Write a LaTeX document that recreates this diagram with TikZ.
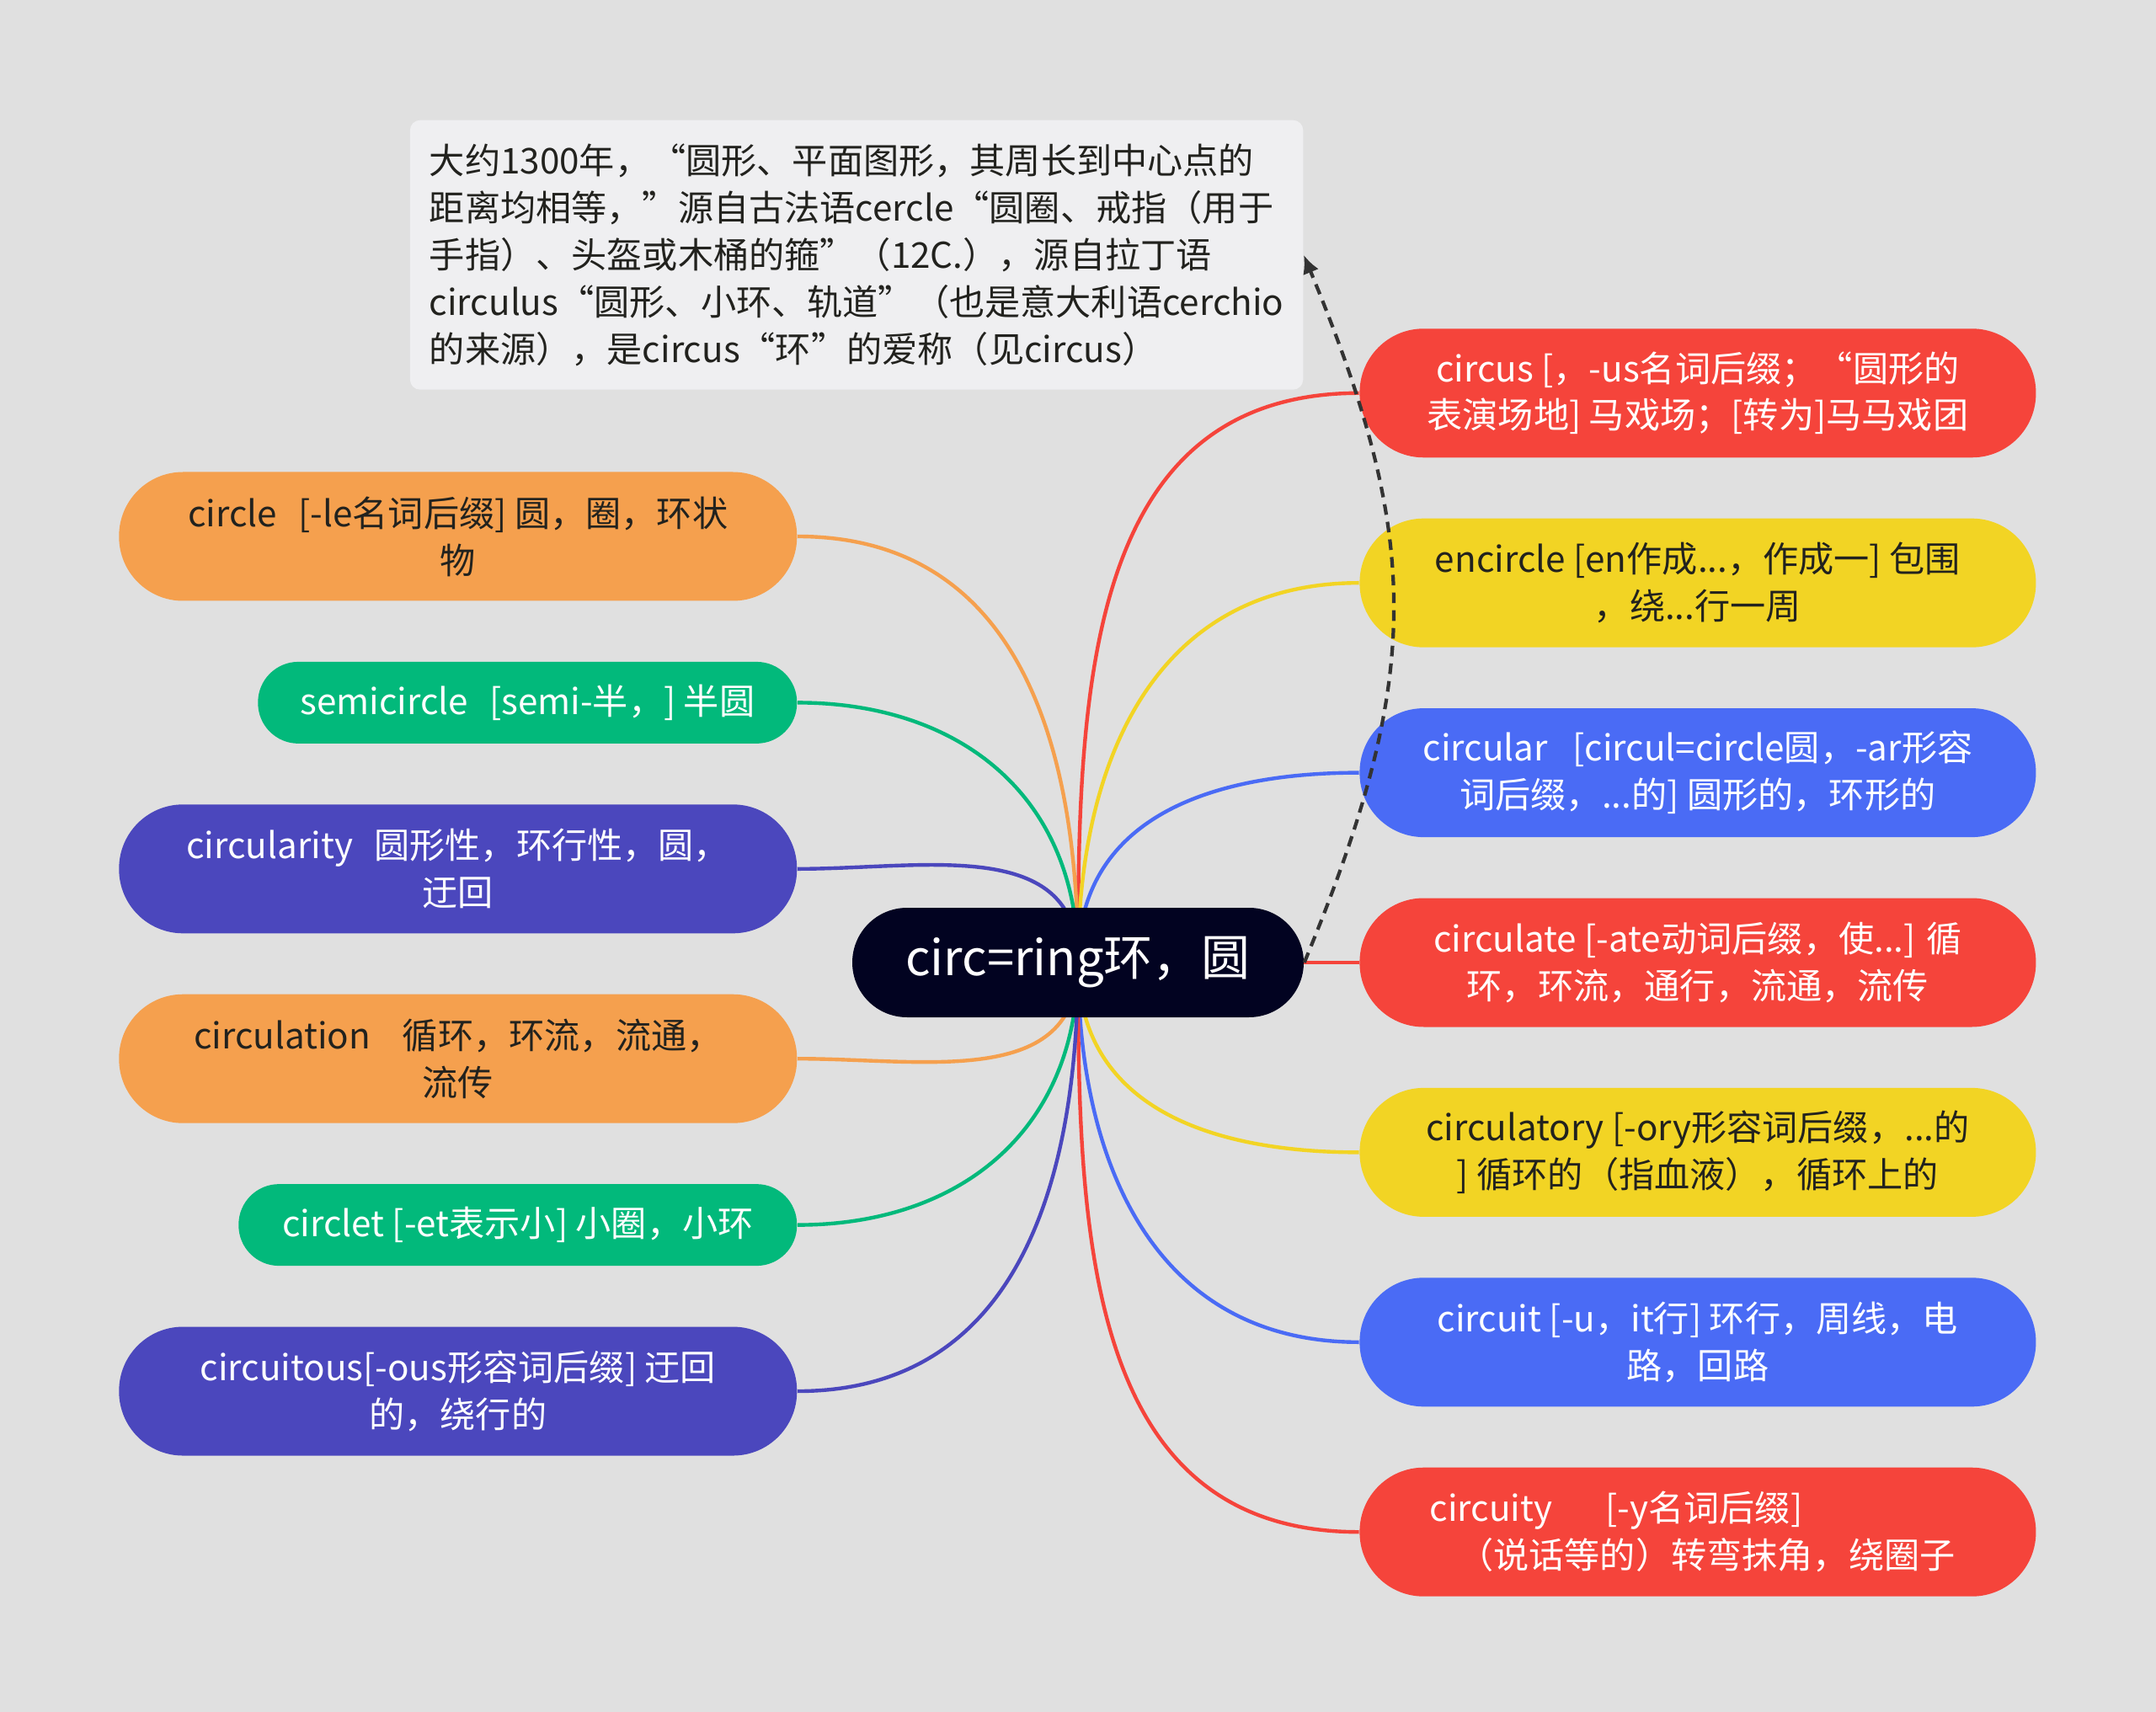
\documentclass[tikz,border=0pt]{standalone}
\usepackage{fontspec}
\setmainfont{Noto Sans CJK SC}
\usepackage{tikz}
\usetikzlibrary{arrows.meta,positioning,backgrounds}
\definecolor{bggray}{RGB}{224,224,224}
\definecolor{notegray}{RGB}{239,239,241}
\definecolor{hubnavy}{RGB}{2,3,33}
\definecolor{mmred}{RGB}{245,68,59}
\definecolor{mmyellow}{RGB}{242,212,36}
\definecolor{mmblue}{RGB}{74,107,245}
\definecolor{mmpurple}{RGB}{75,71,189}
\definecolor{mmgreen}{RGB}{2,185,123}
\definecolor{mmorange}{RGB}{245,160,78}
\definecolor{darktext}{RGB}{34,34,30}
\newcommand\qopen{{\addfontfeature{RawFeature=+fwid}“}}
\newcommand\qclose{{\addfontfeature{RawFeature=+fwid}”}}

\begin{document}
\begin{tikzpicture}[
  node distance=7.1mm and 6.5mm,
  font=\fontsize{12pt}{15.9pt}\selectfont,
  big/.style={rounded corners=7.6mm, align=center, minimum height=15.3mm, minimum width=80.3mm, inner sep=0pt},
  slim/.style={rounded corners=4.8mm, align=center, minimum height=9.7mm, inner sep=0pt},
  hubnode/.style={fill=hubnavy, text=white, rounded corners=6.5mm, minimum height=13mm, minimum width=53.6mm, font=\fontsize{16.5pt}{19pt}\selectfont},
  note/.style={fill=notegray, rounded corners=1.2mm, align=left, inner xsep=2.3mm, minimum width=105.8mm, minimum height=32mm, text=darktext},
  link/.style={line width=1.25pt},
  back/.style={-{Latex[length=2.2mm,width=2mm]}, line width=1.2pt, draw=black!80, dash pattern=on 3.6pt off 2.4pt}
]
\useasboundingbox (0,0) rectangle (25.6,-20.33);

\node[hubnode] (hub) at (12.80,-11.43) {circ=ring环，圆};

% right column
\node[big, fill=mmred, text=white, right=of hub] (circulate) {circulate [-ate动词后缀，使...] 循\\环，环流，通行，流通，流传};
\node[big, fill=mmblue, text=white, above=of circulate] (circular) {circular\hspace{0.7em}[circul=circle圆，-ar形容\\词后缀，...的] 圆形的，环形的};
\node[big, fill=mmyellow, text=darktext, above=of circular] (encircle) {encircle [en作成...，作成一] 包围\\，绕...行一周};
\node[big, fill=mmred, text=white, above=of encircle] (circus) {circus [，-us名词后缀；\qopen 圆形的\\表演场地] 马戏场；[转为]马马戏团};
\node[big, fill=mmyellow, text=darktext, below=of circulate] (circulatory) {circulatory [-ory形容词后缀，...的\\] 循环的（指血液），循环上的};
\node[big, fill=mmblue, text=white, below=of circulatory] (circuit) {circuit [-u，it行] 环行，周线，电\\路，回路};
\node[big, fill=mmred, text=white, below=of circuit] (circuity) {circuity\hspace{1.5em}[-y名词后缀]\mbox{\hspace{4.6em}}\\\mbox{\hspace{0.5em}}（说话等的）转弯抹角，绕圈子};

% left column
\node[big, minimum width=80.5mm, fill=mmorange, text=darktext, anchor=east] (circle) at (9.47,-6.37) {circle\hspace{0.6em}[-le名词后缀] 圆，圈，环状\\物};
\node[slim, minimum width=64mm, fill=mmgreen, text=white, below=of circle.south east, anchor=north east] (semicircle) {semicircle\hspace{0.6em}[semi-半，] 半圆};
\node[big, minimum width=80.5mm, fill=mmpurple, text=white, below=of semicircle.south east, anchor=north east] (circularity) {circularity\hspace{0.6em}圆形性，环行性，圆，\\迂回};
\node[big, minimum width=80.5mm, fill=mmorange, text=darktext, below=of circularity.south east, anchor=north east] (circulation) {circulation\hspace{0.9em}循环，环流，流通，\\流传};
\node[slim, minimum width=66.3mm, fill=mmgreen, text=white, below=of circulation.south east, anchor=north east] (circlet) {circlet [-et表示小] 小圈，小环};
\node[big, minimum width=80.5mm, fill=mmpurple, text=white, below=of circlet.south east, anchor=north east] (circuitous) {circuitous[-ous形容词后缀] 迂回\\的，绕行的};

\node[note, anchor=north east] (origin) at (15.48,-1.42) {大约1300年，\qopen 圆形、平面图形，其周长到中心点的\\
距离均相等，\qclose 源自古法语cercle\qopen 圆圈、戒指（用于\\
手指）、头盔或木桶的箍\qclose（12C.），源自拉丁语\\
circulus\qopen 圆形、小环、轨道\qclose（也是意大利语cerchio\\
的来源），是circus\qopen 环\qclose 的爱称（见circus）};

\begin{pgfonlayer}{background}
\fill[bggray] (0,0) rectangle (25.6,-20.33);
\draw[link, mmred] (hub.center) to[out=90, in=180, looseness=1.1] (circus.west);
\draw[link, mmyellow] (hub.center) to[out=90, in=180, looseness=1.1] (encircle.west);
\draw[link, mmblue] (hub.center) to[out=90, in=180, looseness=1.1] (circular.west);
\draw[link, mmred] (hub.center) -- (circulate.west);
\draw[link, mmyellow] (hub.center) to[out=-90, in=180, looseness=1.1] (circulatory.west);
\draw[link, mmblue] (hub.center) to[out=-90, in=180, looseness=1.1] (circuit.west);
\draw[link, mmred] (hub.center) to[out=-90, in=180, looseness=1.1] (circuity.west);
\draw[link, mmorange] (hub.center) to[out=90, in=0, looseness=1.1] (circle.east);
\draw[link, mmgreen] (hub.center) to[out=90, in=0, looseness=1.1] (semicircle.east);
\draw[link, mmpurple] (hub.center) to[out=90, in=0, looseness=1.1] (circularity.east);
\draw[link, mmorange] (hub.center) to[out=-90, in=0, looseness=1.1] (circulation.east);
\draw[link, mmgreen] (hub.center) to[out=-90, in=0, looseness=1.1] (circlet.east);
\draw[link, mmpurple] (hub.center) to[out=-90, in=0, looseness=1.1] (circuitous.east);
\end{pgfonlayer}

\draw[back] (hub.east) .. controls +(1.41,3.4) and +(1.41,-3.4) .. (origin.east);
\end{tikzpicture}
\end{document}
